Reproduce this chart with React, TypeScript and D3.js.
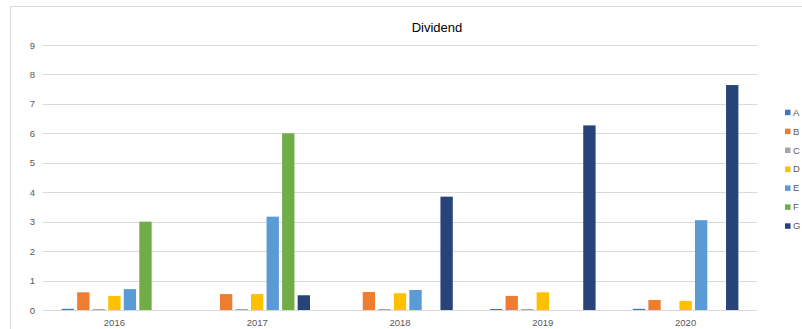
import React from "react";
import * as d3 from "d3";

const years = ["2016", "2017", "2018", "2019", "2020"];
const seriesNames = ["A", "B", "C", "D", "E", "F", "G"];
const seriesColors = ["#4472C4", "#ED7D31", "#A5A5A5", "#FFC000", "#5B9BD5", "#70AD47", "#264478"];
const A = [0.04, 0, 0, 0.03, 0.04];
const B = [0.6, 0.54, 0.61, 0.48, 0.34];
const C = [0.02, 0.02, 0.02, 0.02, 0];
const D = [0.48, 0.54, 0.57, 0.6, 0.31];
const E = [0.71, 3.17, 0.68, 0, 3.05];
const F = [3.0, 6.0, 0, 0, 0];
const G = [0, 0.5, 3.85, 6.27, 7.64];
const yTicks = [0, 1, 2, 3, 4, 5, 6, 7, 8, 9];
const title = "Dividend";

const seriesValues = [A, B, C, D, E, F, G];

export default function App() {
  const W = 802, H = 329;
  const left = 43, right = 757, top = 45, bottom = 310;
  const x0 = d3.scaleBand<string>().domain(years).range([left, right]).padding(0);
  const bw = x0.bandwidth();
  const step = bw / (7 + 2.19);
  const gap = (bw - 7 * step) / 2;
  const x1 = d3.scaleBand<string>().domain(seriesNames).range([gap, bw - gap]).padding(0);
  const y = d3.scaleLinear().domain([0, 9]).range([bottom, top]);
  const font = "'Liberation Sans', Arial, sans-serif";
  const inset = 1.6;

  return (
    <svg width={W} height={H} style={{ position: "absolute", left: 0, top: 0, background: "#fff" }} fontFamily={font}>
      <rect x={0} y={0} width={W} height={H} fill="#fff" />
      <rect x={10.5} y={6.5} width={900} height={400} fill="none" stroke="#d9d9d9" strokeWidth={1} />
      <text x={437} y={32} textAnchor="middle" fontSize={13} fill="#000">{title}</text>
      {yTicks.map((t) => (
        <g key={t}>
          <line x1={left} x2={right} y1={Math.round(y(t)) + 0.5} y2={Math.round(y(t)) + 0.5} stroke="#d9d9d9" strokeWidth={1} />
          <text x={35} y={y(t) + 3.5} textAnchor="end" fontSize={9.5} fill="#595959">{t}</text>
        </g>
      ))}
      {years.map((yr, i) => (
        <g key={yr} transform={`translate(${x0(yr)},0)`}>
          {seriesNames.map((s, j) => {
            const v = seriesValues[j][i];
            if (v <= 0) return null;
            const h = Math.max(bottom - y(v), 1);
            return (
              <rect key={s} x={(x1(s) as number) + inset} y={bottom - h} width={x1.bandwidth() - 2 * inset} height={h}
                fill={seriesColors[j]} />
            );
          })}
          <text x={bw / 2} y={326} textAnchor="middle" fontSize={9.5} fill="#595959">{yr}</text>
        </g>
      ))}
      {seriesNames.map((s, j) => (
        <g key={s} transform={`translate(785,${112.7 + j * 18.93})`}>
          <rect x={0} y={-3} width={5.5} height={5.5} fill={seriesColors[j]} />
          <text x={8} y={3} fontSize={9.5} fill="#595959">{s}</text>
        </g>
      ))}
    </svg>
  );
}
